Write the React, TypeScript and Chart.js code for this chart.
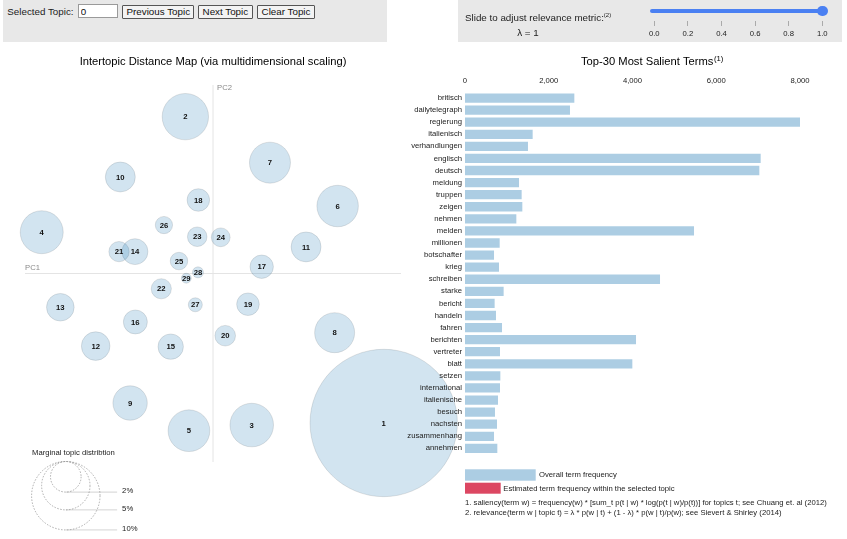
import React, { useEffect, useRef } from "react";
import { Chart, registerables } from "chart.js";
Chart.register(...registerables);

const FONT = '"Liberation Sans", Arial, Helvetica, sans-serif';

// ---- Intertopic distance map data ----
const topicIds = [1, 2, 3, 4, 5, 6, 7, 8, 9, 10, 11, 12, 13, 14, 15, 16, 17, 18, 19, 20, 21, 22, 23, 24, 25, 26, 27, 28, 29];
const topicPC1 = [0.908, -0.147, 0.206, -0.911, -0.128, 0.663, 0.303, 0.647, -0.441, -0.493, 0.495, -0.624, -0.812, -0.415, -0.225, -0.413, 0.259, -0.078, 0.186, 0.065, -0.5, -0.275, -0.084, 0.041, -0.181, -0.261, -0.094, -0.08, -0.142];
const topicPC2 = [-0.793, 0.832, -0.804, 0.219, -0.834, 0.358, 0.588, -0.314, -0.687, 0.512, 0.141, -0.385, -0.179, 0.116, -0.388, -0.257, 0.036, 0.39, -0.163, -0.33, 0.116, -0.081, 0.195, 0.192, 0.066, 0.257, -0.166, 0.006, -0.025];
const topicPct = [46.4, 4.6, 4.06, 3.95, 3.72, 3.68, 3.59, 3.42, 2.53, 1.92, 1.92, 1.75, 1.63, 1.44, 1.38, 1.23, 1.17, 1.09, 1.09, 0.91, 0.88, 0.87, 0.82, 0.76, 0.66, 0.64, 0.42, 0.26, 0.21];
const legendPcts = [2, 5, 10];

// ---- Top-30 salient terms ----
const terms = ["britisch", "dailytelegraph", "regierung", "italienisch", "verhandlungen", "englisch", "deutsch", "meldung", "truppen", "zeigen", "nehmen", "melden", "millionen", "botschafter", "krieg", "schreiben", "starke", "bericht", "handeln", "fahren", "berichten", "vertreter", "blatt", "setzen", "international", "italienische", "besuch", "nachsten", "zusammenhang", "annehmen"];
const termFreq = [2611, 2507, 8000, 1616, 1504, 7061, 7029, 1290, 1353, 1369, 1226, 5469, 828, 693, 812, 4657, 923, 708, 740, 884, 4084, 836, 3996, 844, 836, 788, 716, 764, 693, 772];
const freqTickStep = 2000;
const freqMax = 8000;

// ---- Relevance slider ticks ----
const lambdaTicks = [0, 0.2, 0.4, 0.6, 0.8, 1.0];
const lambdaValue = 1;

const RADIUS_K = 10.82; // px per sqrt(percent)
const radiusFor = (pct: number) => RADIUS_K * Math.sqrt(pct);

const leftDecor = {
  id: "leftDecor",
  beforeDatasetsDraw(chart: any) {
    const { ctx, chartArea, scales } = chart;
    const x0 = scales.x.getPixelForValue(0);
    const y0 = scales.y.getPixelForValue(0);
    ctx.save();
    ctx.strokeStyle = "#e4e4e4";
    ctx.lineWidth = 1;
    ctx.beginPath();
    ctx.moveTo(x0, chartArea.top);
    ctx.lineTo(x0, chartArea.bottom);
    ctx.moveTo(chartArea.left, y0);
    ctx.lineTo(chartArea.right, y0);
    ctx.stroke();
    ctx.fillStyle = "#8a8a8a";
    ctx.font = `7.7px ${FONT}`;
    ctx.textBaseline = "middle";
    ctx.textAlign = "left";
    ctx.fillText("PC2", x0 + 4, chartArea.top + 3);
    ctx.fillText("PC1", chartArea.left, y0 - 6);
    ctx.restore();
  },
  afterDatasetsDraw(chart: any) {
    const { ctx, chartArea } = chart;
    const meta = chart.getDatasetMeta(0);
    ctx.save();
    // topic labels
    ctx.fillStyle = "#111";
    ctx.font = `bold 7.7px ${FONT}`;
    ctx.textAlign = "center";
    ctx.textBaseline = "middle";
    meta.data.forEach((el: any, i: number) => {
      ctx.fillText(String(topicIds[i]), el.x, el.y + 0.5);
    });
    // title
    ctx.fillStyle = "#000";
    ctx.font = `11.2px ${FONT}`;
    ctx.textBaseline = "alphabetic";
    ctx.fillText("Intertopic Distance Map (via multidimensional scaling)", (chartArea.left + chartArea.right) / 2, 64.5);
    // marginal distribution legend
    ctx.textAlign = "left";
    ctx.textBaseline = "middle";
    ctx.font = `7.7px ${FONT}`;
    ctx.fillStyle = "#222";
    ctx.fillText("Marginal topic distribtion", 32, 453);
    const cx = 65.8;
    const topY = 461.5;
    const rLarge = radiusFor(Math.max(...legendPcts));
    const cx2 = cx + 1.5 * rLarge;
    legendPcts.forEach((p) => {
      const r = radiusFor(p);
      ctx.setLineDash([1.5, 1.5]);
      ctx.strokeStyle = "#999";
      ctx.lineWidth = 0.8;
      ctx.beginPath();
      ctx.arc(cx, topY + r, r, 0, Math.PI * 2);
      ctx.stroke();
      ctx.setLineDash([]);
      ctx.strokeStyle = "rgba(128,128,128,0.35)";
      ctx.lineWidth = 1;
      ctx.beginPath();
      ctx.moveTo(cx, topY + 2 * r);
      ctx.lineTo(cx2, topY + 2 * r);
      ctx.stroke();
      ctx.fillStyle = "#222";
      ctx.fillText(`${p}%`, cx2 + 5, topY + 2 * r - 1);
    });
    ctx.restore();
  },
};

const rightDecor = {
  id: "rightDecor",
  afterDraw(chart: any) {
    const { ctx } = chart;
    ctx.save();
    // title
    ctx.fillStyle = "#000";
    ctx.font = `11.2px ${FONT}`;
    ctx.textAlign = "left";
    ctx.textBaseline = "alphabetic";
    const t = "Top-30 Most Salient Terms";
    ctx.fillText(t, 181, 14.5);
    const w = ctx.measureText(t).width;
    ctx.font = `7.7px ${FONT}`;
    ctx.fillText("(1)", 181 + w + 0.5, 10.5);
    // legend
    ctx.fillStyle = "rgba(31,119,180,0.37)";
    ctx.fillRect(65, 419.3, 70.7, 11.4);
    ctx.fillStyle = "rgba(214,39,70,0.85)";
    ctx.fillRect(65, 432.7, 35.7, 11);
    ctx.fillStyle = "#222";
    ctx.textBaseline = "middle";
    ctx.fillText("Overall term frequency", 139, 424.6);
    ctx.fillText("Estimated term frequency within the selected topic", 103.3, 438.4);
    ctx.fillText("1. saliency(term w) = frequency(w) * [sum_t p(t | w) * log(p(t | w)/p(t))] for topics t; see Chuang et. al (2012)", 65, 452.4);
    ctx.fillText("2. relevance(term w | topic t) = \u03bb * p(w | t) + (1 - \u03bb) * p(w | t)/p(w); see Sievert & Shirley (2014)", 65, 462.8);
    ctx.restore();
  },
};

export default function App() {
  const leftRef = useRef<HTMLCanvasElement>(null);
  const rightRef = useRef<HTMLCanvasElement>(null);

  useEffect(() => {
    const left = new Chart(leftRef.current as HTMLCanvasElement, {
      type: "bubble",
      data: {
        datasets: [
          {
            data: topicIds.map((_, i) => ({ x: topicPC1[i], y: topicPC2[i], r: radiusFor(topicPct[i]) })),
            backgroundColor: "rgba(31,119,180,0.2)",
            borderColor: "rgba(0,0,0,0.1)",
            borderWidth: 1,
            clip: false as any,
          } as any,
        ],
      },
      options: {
        responsive: false,
        animation: false,
        devicePixelRatio: 1,
        events: [],
        layout: { autoPadding: false, padding: { left: 25, right: 446, top: 85, bottom: 77 } },
        scales: {
          x: { type: "linear", min: -1, max: 1, display: false },
          y: { type: "linear", min: -1, max: 1, display: false },
        },
        plugins: { legend: { display: false }, tooltip: { enabled: false } },
      },
      plugins: [leftDecor],
    });

    const right = new Chart(rightRef.current as HTMLCanvasElement, {
      type: "bar",
      data: {
        labels: terms,
        datasets: [
          {
            data: termFreq,
            backgroundColor: "rgba(31,119,180,0.37)",
            borderWidth: 0,
            barPercentage: 0.77,
            categoryPercentage: 1,
          },
        ],
      },
      options: {
        indexAxis: "y",
        responsive: false,
        animation: false,
        devicePixelRatio: 1,
        events: [],
        layout: { padding: { left: 0, right: 47, top: 0, bottom: 84.6 } },
        scales: {
          x: {
            position: "top",
            min: 0,
            max: freqMax,
            ticks: { stepSize: freqTickStep, font: { family: FONT, size: 7.7 }, color: "#222", padding: 6, maxRotation: 0 },
            grid: { display: false, drawTicks: false },
            border: { display: false },
            afterFit: (s: any) => {
              s.height = 42;
            },
          },
          y: {
            ticks: { font: { family: FONT, size: 7.7 }, color: "#222", padding: 3, autoSkip: false },
            grid: { display: false, drawTicks: false },
            border: { display: false },
            afterFit: (s: any) => {
              s.width = 65;
            },
          },
        },
        plugins: { legend: { display: false }, tooltip: { enabled: false } },
      },
      plugins: [rightDecor],
    });

    return () => {
      left.destroy();
      right.destroy();
    };
  }, []);

  const panel: React.CSSProperties = { position: "absolute", top: 0, height: 42, width: 384, background: "#e8e8e8", fontFamily: FONT, color: "#222" };
  const btn: React.CSSProperties = {
    position: "absolute",
    top: 4.7,
    height: 14.3,
    boxSizing: "border-box",
    padding: 0,
    margin: 0,
    fontFamily: FONT,
    fontSize: 9.8,
    fontWeight: 400,
    lineHeight: "12px",
    background: "#f3f3f3",
    border: "1px solid #555",
    borderRadius: 1,
    color: "#111",
  };
  const tickX = (v: number) => 196.3 + v * 168;

  return (
    <div style={{ position: "absolute", left: 0, top: 0, width: 847, height: 539, overflow: "hidden", background: "#fff" }}>
      <canvas ref={leftRef} width={847} height={539} style={{ position: "absolute", left: 0, top: 0, width: 847, height: 539 }} />
      <canvas ref={rightRef} width={447} height={489} style={{ position: "absolute", left: 400, top: 50, width: 447, height: 489 }} />

      <div style={{ ...panel, left: 3 }}>
        <span style={{ position: "absolute", left: 4.3, top: 4.7, height: 14, lineHeight: "14px", fontSize: 9.8, whiteSpace: "nowrap" }}>Selected Topic:</span>
        <input
          readOnly
          value="0"
          style={{ position: "absolute", left: 74.7, top: 4.3, width: 40.6, height: 14, boxSizing: "border-box", padding: "0 0 0 2px", margin: 0, border: "1px solid #9a9a9a", fontFamily: FONT, fontSize: 9.8, background: "#fff", color: "#111", outline: "none" }}
        />
        <button style={{ ...btn, left: 119.3, width: 72 }}>Previous Topic</button>
        <button style={{ ...btn, left: 195, width: 54.7 }}>Next Topic</button>
        <button style={{ ...btn, left: 254, width: 58 }}>Clear Topic</button>
      </div>

      <div style={{ ...panel, left: 458 }}>
        <span style={{ position: "absolute", left: 7, top: 7.7, height: 14, lineHeight: "14px", fontSize: 9.8, whiteSpace: "nowrap" }}>
          Slide to adjust relevance metric:<sup style={{ fontSize: 6, verticalAlign: "4px" }}>(2)</sup>
        </span>
        <span style={{ position: "absolute", left: 40, width: 60, textAlign: "center", top: 26.3, height: 14, lineHeight: "14px", fontSize: 9.8 }}>
          {"\u03bb = " + lambdaValue}
        </span>
        <div style={{ position: "absolute", left: 192, top: 8.7, width: 176.7, height: 4.7, borderRadius: 2.5, background: "#4a80f2" }} />
        <div style={{ position: "absolute", left: tickX(lambdaValue) - 5.3, top: 11 - 5.3, width: 10.6, height: 10.6, borderRadius: "50%", background: "#4a80f2" }} />
        {lambdaTicks.map((v) => (
          <React.Fragment key={v}>
            <div style={{ position: "absolute", left: tickX(v) - 0.5, top: 21, width: 1, height: 4.5, background: "#aaa" }} />
            <span style={{ position: "absolute", left: tickX(v) - 15, width: 30, textAlign: "center", top: 28.5, height: 10, lineHeight: "10px", fontSize: 7.7 }}>
              {v.toFixed(1)}
            </span>
          </React.Fragment>
        ))}
      </div>
    </div>
  );
}
